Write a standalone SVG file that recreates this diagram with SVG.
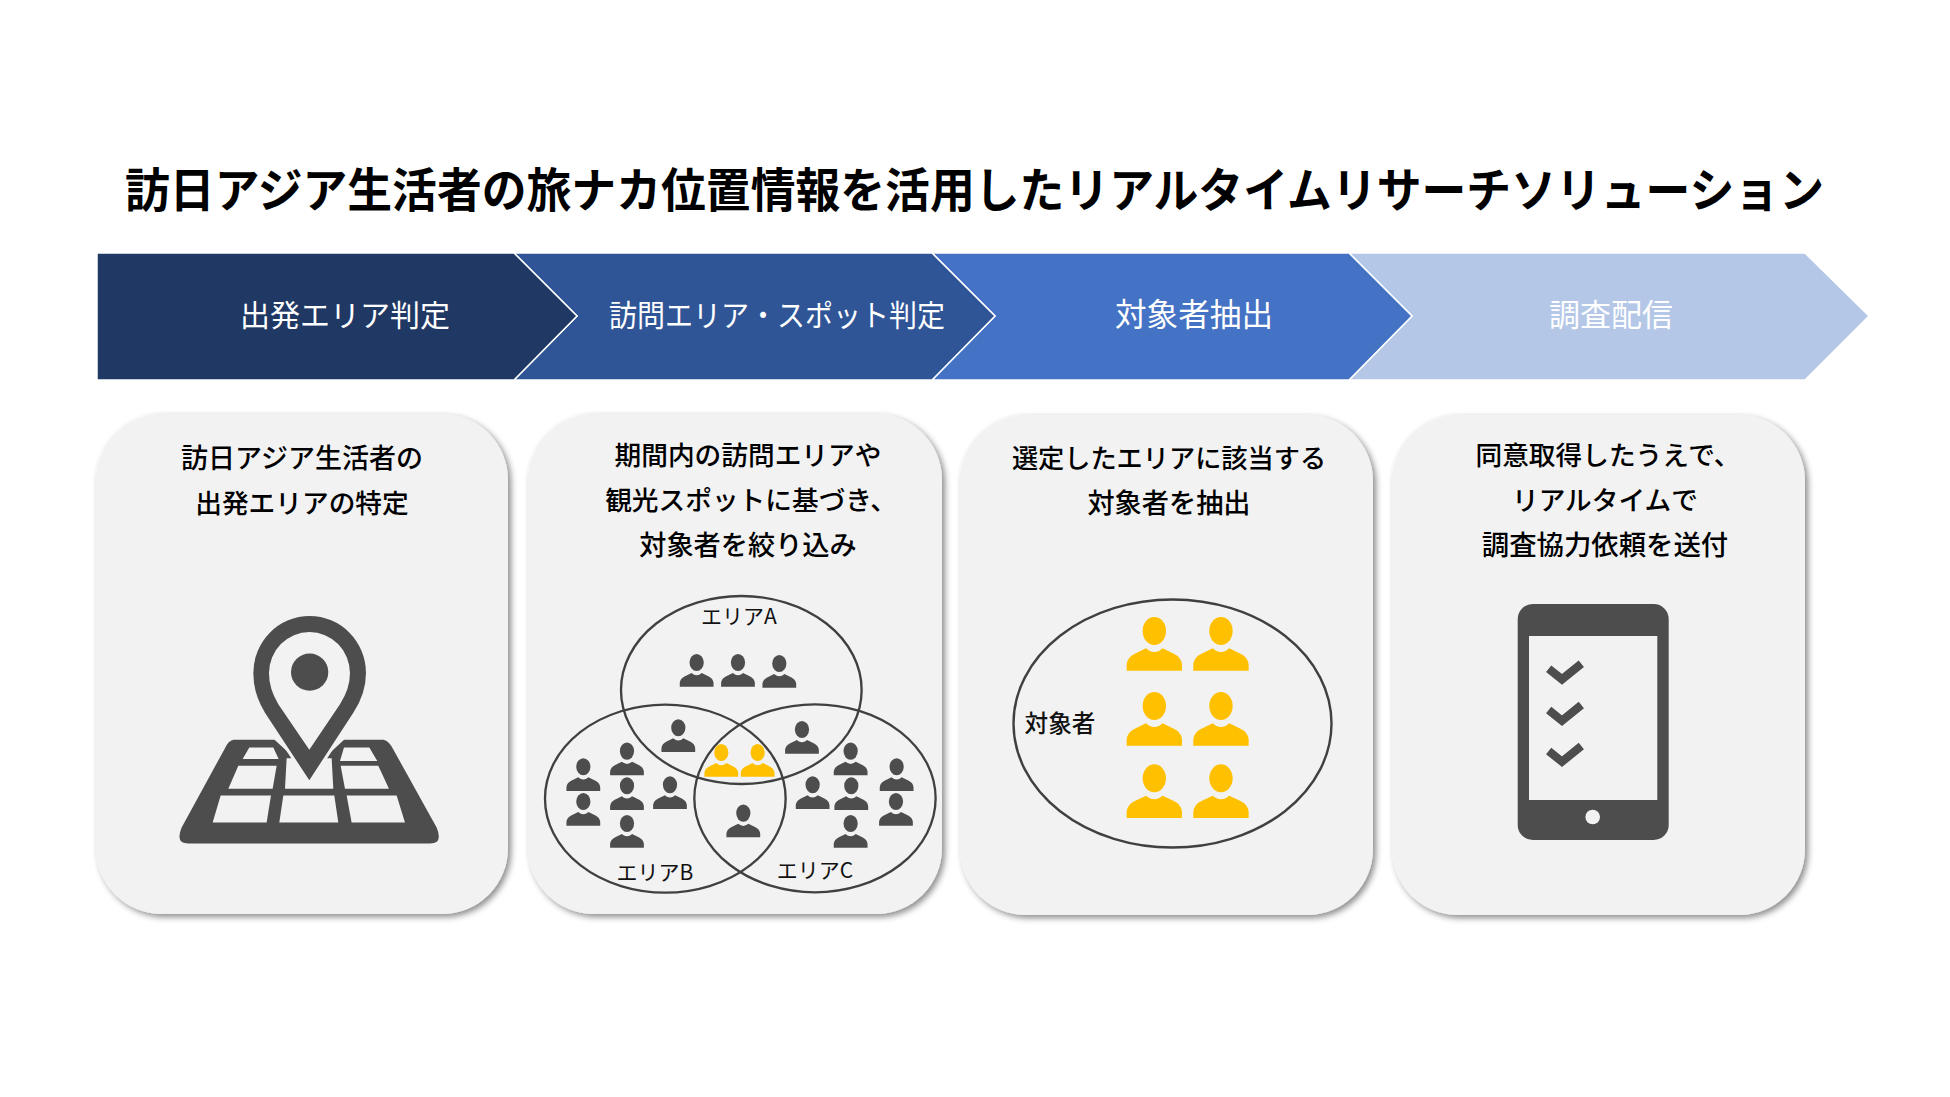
<svg xmlns="http://www.w3.org/2000/svg" xmlns:xlink="http://www.w3.org/1999/xlink" width="1950" height="1097" viewBox="0 0 1950 1097">
<style>
text{font-family:"Noto Sans CJK JP","Noto Sans",sans-serif;text-anchor:middle}
.title{font-size:47px;font-weight:700;fill:#000}
.step{font-size:30px;fill:#fff;font-weight:400}
.body{font-size:26.7px;font-weight:500;fill:#000}
.lab{font-size:21px;font-weight:400;fill:#111}
.card{fill:#f2f2f2;filter:url(#sh)}
.chev{stroke:#fff;stroke-width:1.5}
.ell{fill:none;stroke:#404040;stroke-width:2.4}
.dk{fill:#4d4d4d}
.yl{fill:#ffc000}
</style>
<defs>
<filter id="sh" x="-5%" y="-5%" width="112%" height="112%"><feDropShadow dx="3" dy="3" stdDeviation="3" flood-color="#000" flood-opacity="0.45"/></filter>
<g id="p"><ellipse cx="0" cy="-119" rx="35" ry="42"/><path d="M-83,0L-83,-20Q-80,-40-60,-50L-25,-67L-15,-60Q0,-52 15,-60L25,-67L60,-50Q80,-40 83,-20L83,0Z"/></g>
</defs>
<rect width="1950" height="1097" fill="#fff"/>
<g id="title"><text class="title" x="974.5" y="207" textLength="1699" lengthAdjust="spacingAndGlyphs">訪日アジア生活者の旅ナカ位置情報を活用したリアルタイムリサーチソリューション</text></g>
<g id="step4"><path class="chev" fill="#b4c7e7" d="M1349,253H1805L1869,316L1805,380H1349L1412,316Z"/><text class="step" x="1611" y="326" style="font-size:31px">調査配信</text></g>
<g id="step3"><path class="chev" fill="#4472c4" d="M932,253H1349L1412,316L1349,380H932L995,316Z"/><text class="step" x="1194" y="326" style="font-size:31.6px">対象者抽出</text></g>
<g id="step2"><path class="chev" fill="#2f5597" d="M514,253H932L995,316L932,380H514L577,316Z"/><text class="step" x="777" y="326" textLength="336" lengthAdjust="spacingAndGlyphs">訪問エリア・スポット判定</text></g>
<g id="step1"><path class="chev" fill="#1f3864" d="M97,253H514L577,316L514,380H97Z" stroke="none"/><text class="step" x="345" y="326">出発エリア判定</text></g>
<g id="card1">
<rect class="card" x="96" y="414" width="412" height="500" rx="66"/>
<text class="body" x="302" y="468" style="font-size:27px">訪日アジア生活者の</text>
<text class="body" x="302" y="513">出発エリアの特定</text>
<g transform="translate(90,400) scale(.3333,.338)">
<path class="dk" d="M430,1005L880,1005Q895,1008 905,1025L1040,1265Q1060,1312 1020,1312L295,1312Q255,1312 275,1265L405,1030Q415,1008 430,1005Z"/>
<path fill="#f2f2f2" d="M392,1170H543L530,1250H368ZM580,1170H733L745,1250H568ZM770,1170H920L945,1250H785ZM445,1082H560L548,1150H415ZM590,1060H725L730,1150H585ZM752,1082H865L897,1150H765ZM478,1028H550L566,1062H458ZM762,1028H838L862,1068H750ZM548,1000H768L658,1100Z"/>
<path class="dk" stroke="#f2f2f2" stroke-width="18" paint-order="stroke" fill-rule="evenodd" d="M658,1125L525,925Q490,870 490,808A168,168 0 0 1 828,808Q828,870 790,925ZM658,1035L750,900Q780,855 780,808A121,121 0 0 0 537,808Q537,855 565,900Z"/>
<ellipse class="dk" cx="659" cy="805" rx="56" ry="55"/>
</g>
</g>
<g id="card2">
<rect class="card" x="528" y="414" width="414" height="500" rx="66"/>
<text class="body" x="748" y="465">期間内の訪問エリアや</text>
<text class="body" x="751" y="510">観光スポットに基づき、</text>
<text class="body" x="748" y="555" style="font-size:27.2px">対象者を絞り込み</text>
<g transform="translate(520,580) scale(.3333)">
<ellipse class="ell" style="stroke-width:7" cx="664" cy="330" rx="361" ry="282"/>
<ellipse class="ell" style="stroke-width:7" cx="436" cy="656" rx="361" ry="282"/>
<ellipse class="ell" style="stroke-width:7" cx="885" cy="655" rx="362" ry="282"/>
<g class="dk">
<use href="#p" transform="translate(530,320) scale(.61)"/><use href="#p" transform="translate(654,320) scale(.61)"/><use href="#p" transform="translate(778,323) scale(.61)"/>
<use href="#p" transform="translate(475,516) scale(.61)"/><use href="#p" transform="translate(846,521) scale(.61)"/>
<use href="#p" transform="translate(190,633) scale(.61)"/><use href="#p" transform="translate(190,737) scale(.61)"/><use href="#p" transform="translate(321,586) scale(.61)"/><use href="#p" transform="translate(321,690) scale(.61)"/><use href="#p" transform="translate(321,803) scale(.61)"/><use href="#p" transform="translate(450,687) scale(.61)"/>
<use href="#p" transform="translate(992,586) scale(.61)"/><use href="#p" transform="translate(994,690) scale(.61)"/><use href="#p" transform="translate(992,803) scale(.61)"/><use href="#p" transform="translate(878,687) scale(.61)"/><use href="#p" transform="translate(1130,633) scale(.61)"/><use href="#p" transform="translate(1128,737) scale(.61)"/>
<use href="#p" transform="translate(670,772) scale(.61)"/>
</g>
<g class="yl"><use href="#p" transform="translate(604,590) scale(.61)"/><use href="#p" transform="translate(713,590) scale(.61)"/></g>
</g>
<text class="lab" x="739" y="624">エリアA</text>
<text class="lab" x="655" y="880">エリアB</text>
<text class="lab" x="815" y="878">エリアC</text>
</g>
<g id="card3">
<rect class="card" x="960" y="415" width="413" height="500" rx="66"/>
<text class="body" x="1169" y="468" style="font-size:26.2px">選定したエリアに該当する</text>
<text class="body" x="1169" y="513" style="font-size:27.2px">対象者を抽出</text>
<ellipse class="ell" cx="1172.5" cy="723.5" rx="159" ry="124"/>
<text class="lab" x="1060" y="732" style="font-size:23.6px;font-weight:500">対象者</text>
<g class="yl" transform="translate(980,580) scale(.3333)">
<use href="#p" x="523" y="272"/><use href="#p" x="723" y="272"/><use href="#p" x="523" y="497"/><use href="#p" x="723" y="497"/><use href="#p" x="523" y="714"/><use href="#p" x="723" y="714"/>
</g>
</g>
<g id="card4">
<rect class="card" x="1392" y="415" width="413" height="500" rx="66"/>
<text class="body" x="1608" y="465">同意取得したうえで、</text>
<text class="body" x="1605" y="510">リアルタイムで</text>
<text class="body" x="1605" y="555" style="font-size:27.4px">調査協力依頼を送付</text>
<rect class="dk" x="1517.7" y="604" width="151" height="236" rx="15"/>
<rect x="1529" y="636" width="128.3" height="164" fill="#f2f2f2"/>
<circle cx="1592.7" cy="817" r="7.3" fill="#f2f2f2"/>
<g transform="translate(1440,581) scale(.3333)" fill="none" stroke="#4d4d4d" stroke-width="25">
<path d="M326,263L366,295L424,248"/><path d="M326,387L366,419L424,372"/><path d="M326,510L366,542L424,495"/>
</g>
</g>
</svg>
